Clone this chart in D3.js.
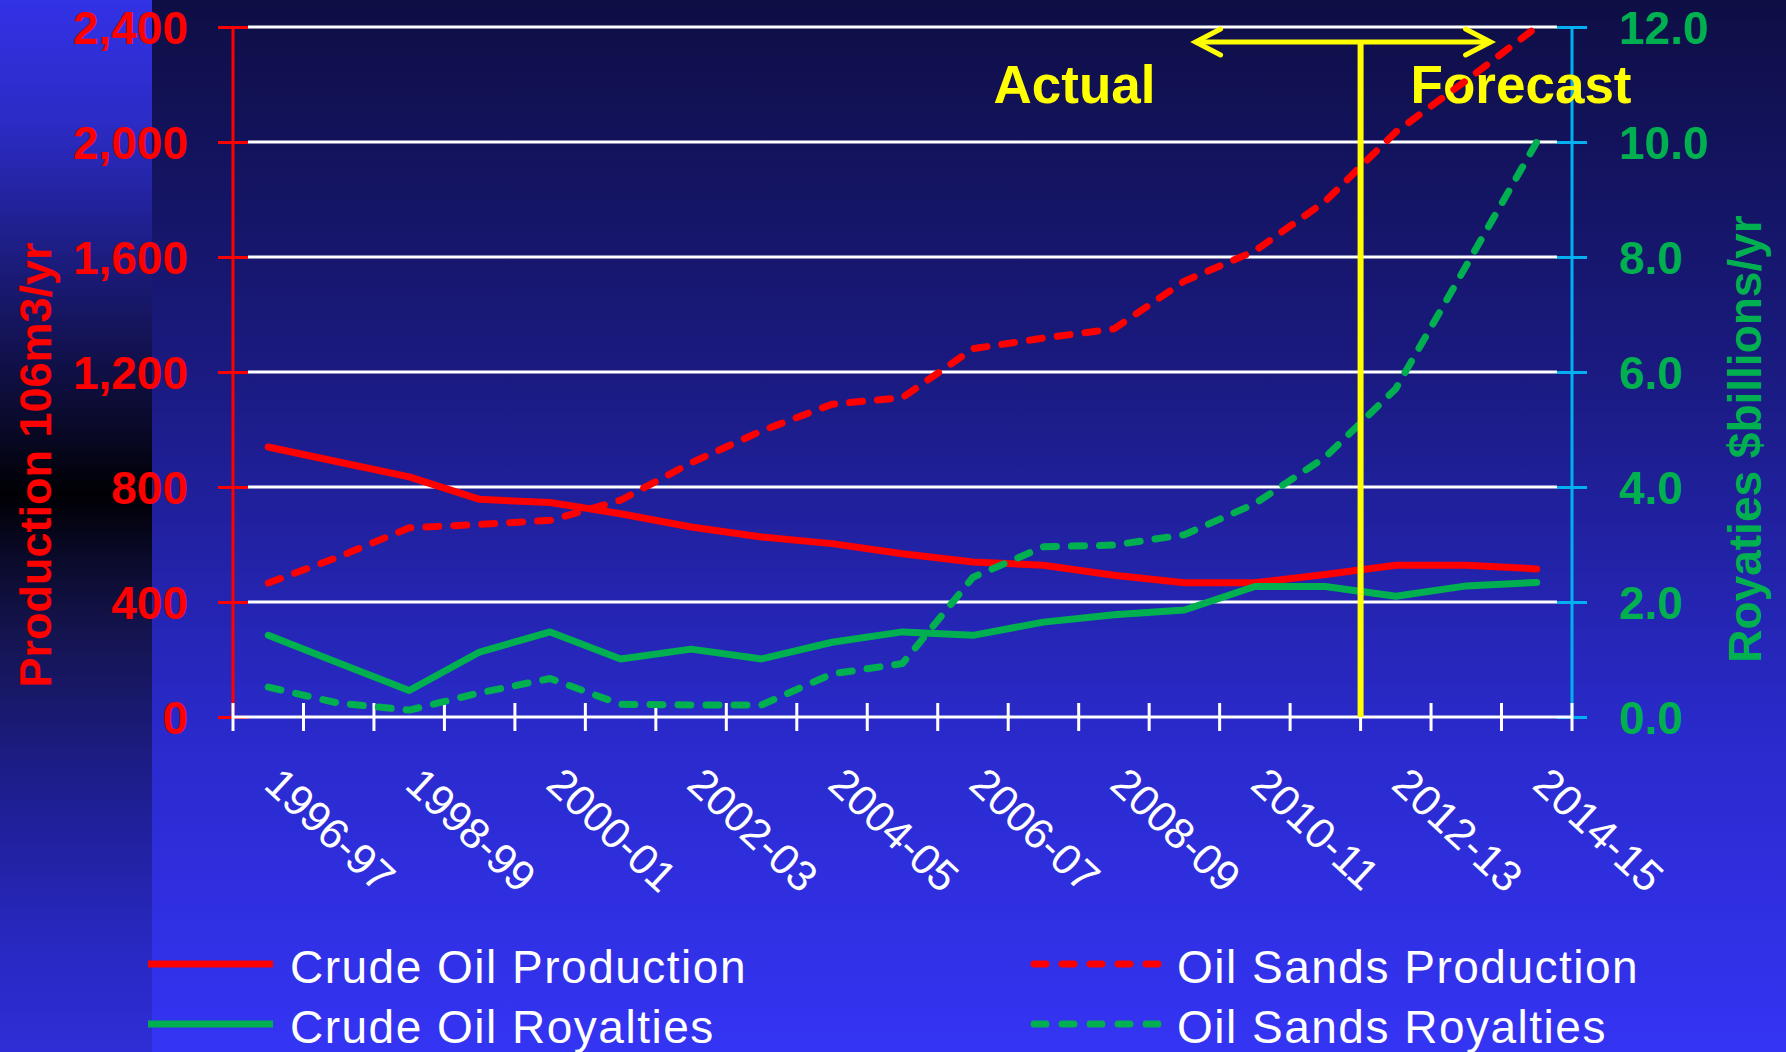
<!DOCTYPE html>
<html>
<head>
<meta charset="utf-8">
<script src="https://cdn.jsdelivr.net/npm/d3@7"></script>
<style>
body { margin: 0; background: #1a1a80; }
svg { display: block; font-family: "Liberation Sans", Arial, Helvetica, sans-serif; }
</style>
</head>
<body>
<svg width="1786" height="1052"></svg>
<script>
// fiscal years on the x axis
var categories = ["1996-97", "1997-98", "1998-99", "1999-00", "2000-01", "2001-02", "2002-03",
  "2003-04", "2004-05", "2005-06", "2006-07", "2007-08", "2008-09", "2009-10", "2010-11",
  "2011-12", "2012-13", "2013-14", "2014-15"];
var firstForecast = "2012-13";

var leftTicks = [0, 400, 800, 1200, 1600, 2000, 2400];
var rightTicks = [0, 2, 4, 6, 8, 10, 12];

// production, 10^6 m3 / yr (left axis)
var crudeOilProduction = [939, 887, 835, 757, 746, 707, 661, 626, 603, 568, 539, 528, 493, 467, 467, 496, 528, 528, 515];
var oilSandsProduction = [466, 557, 658, 670, 684, 754, 884, 995, 1088, 1111, 1281, 1318, 1350, 1516, 1621, 1794, 2035, 2214, 2400];

// royalties, $ billions / yr (right axis)
var crudeOilRoyalties = [1.42, 0.94, 0.46, 1.13, 1.48, 1.01, 1.18, 1.01, 1.30, 1.48, 1.42, 1.65, 1.78, 1.86, 2.27, 2.27, 2.10, 2.28, 2.34];
var oilSandsRoyalties = [0.52, 0.24, 0.12, 0.42, 0.67, 0.22, 0.21, 0.21, 0.75, 0.93, 2.43, 2.96, 2.99, 3.17, 3.71, 4.52, 5.71, 7.85, 10.0];

var RED = "#ff0000", GREEN = "#00b050", BLUE = "#00b0f0", YELLOW = "#ffff00";

var svg = d3.select("svg"),
    width = +svg.attr("width"),
    height = +svg.attr("height");

var plot = {left: 233, right: 1572, top: 27, bottom: 717};

var x = d3.scaleBand().domain(categories).range([plot.left, plot.right]);
var yLeft = d3.scaleLinear().domain([0, 2400]).range([plot.bottom, plot.top]);
var yRight = d3.scaleLinear().domain([0, 12]).range([plot.bottom, plot.top]);

// -- background --
var defs = svg.append("defs");
var mainGrad = defs.append("linearGradient").attr("id", "bg-main")
    .attr("x1", 0).attr("y1", 0).attr("x2", 0).attr("y2", 1);
[[0, "#0e0e45"], [0.35, "#1a1a80"], [0.7, "#2a2acc"], [1, "#3434f4"]].forEach(function(s) {
  mainGrad.append("stop").attr("offset", s[0]).attr("stop-color", s[1]);
});
var stripGrad = defs.append("linearGradient").attr("id", "bg-strip")
    .attr("x1", 0).attr("y1", 0).attr("x2", 0).attr("y2", 1);
[[0, "#3232e6"], [0.12, "#2b2bc4"], [0.28, "#18186c"], [0.4, "#0a0a2c"], [0.47, "#000004"],
 [0.53, "#0a0a2a"], [0.6, "#14144f"], [0.75, "#1e1e90"], [0.9, "#2828c2"], [1, "#2e2ed6"]].forEach(function(s) {
  stripGrad.append("stop").attr("offset", s[0]).attr("stop-color", s[1]);
});

svg.append("rect").attr("width", width).attr("height", height).attr("fill", "url(#bg-main)");
svg.append("rect").attr("width", 152).attr("height", height).attr("fill", "url(#bg-strip)");

// -- gridlines --
svg.append("g").attr("class", "grid")
  .selectAll("line")
  .data(leftTicks.filter(function(d) { return d > 0; }))
  .enter().append("line")
    .attr("x1", plot.left + 15)
    .attr("x2", plot.right - 15)
    .attr("y1", function(d) { return yLeft(d); })
    .attr("y2", function(d) { return yLeft(d); })
    .attr("stroke", "#ffffff")
    .attr("stroke-width", 3);

// -- left axis --
var leftAxis = svg.append("g")
    .attr("transform", "translate(" + plot.left + ",0)")
    .call(d3.axisLeft(yLeft).tickValues(leftTicks).tickFormat(d3.format(",")).tickSize(15).tickPadding(30));
leftAxis.select(".domain").attr("stroke", RED).attr("stroke-width", 3).attr("d", "M0," + plot.top + "V" + plot.bottom);
leftAxis.selectAll(".tick line").attr("stroke", RED).attr("stroke-width", 3).attr("x1", 15).attr("x2", -15);
leftAxis.selectAll(".tick text")
    .attr("fill", RED)
    .attr("font-family", "Liberation Sans, Arial, sans-serif")
    .attr("font-size", 46)
    .attr("font-weight", "bold")
    .attr("dy", "0.36em");

// -- right axis --
var rightAxis = svg.append("g")
    .attr("transform", "translate(" + plot.right + ",0)")
    .call(d3.axisRight(yRight).tickValues(rightTicks).tickFormat(d3.format(".1f")).tickSize(15).tickPadding(32));
rightAxis.select(".domain").attr("stroke", BLUE).attr("stroke-width", 3).attr("d", "M0," + plot.top + "V" + plot.bottom);
rightAxis.selectAll(".tick line").attr("stroke", BLUE).attr("stroke-width", 3).attr("x1", -15).attr("x2", 15);
rightAxis.selectAll(".tick text")
    .attr("fill", GREEN)
    .attr("font-family", "Liberation Sans, Arial, sans-serif")
    .attr("font-size", 46)
    .attr("font-weight", "bold")
    .attr("dy", "0.36em");

// -- x axis (ticks on band edges, label on every other year) --
var edges = categories.map(function(c) { return x(c); }).concat([plot.right]);
var xAxis = svg.append("g").attr("class", "x-axis");
xAxis.append("line")
    .attr("x1", plot.left).attr("x2", plot.right)
    .attr("y1", plot.bottom).attr("y2", plot.bottom)
    .attr("stroke", "#ffffff").attr("stroke-width", 3);
xAxis.selectAll(".xtick")
  .data(edges)
  .enter().append("line")
    .attr("class", "xtick")
    .attr("x1", function(d) { return d; }).attr("x2", function(d) { return d; })
    .attr("y1", plot.bottom - 14).attr("y2", plot.bottom + 14)
    .attr("stroke", "#ffffff").attr("stroke-width", 3);
xAxis.selectAll(".xlabel")
  .data(categories.filter(function(d, i) { return i % 2 == 0; }))
  .enter().append("text")
    .attr("class", "xlabel")
    .attr("transform", function(d) {
      return "translate(" + (x(d) + x.bandwidth() / 2 - 6) + "," + (plot.bottom + 70) + ") rotate(43)";
    })
    .attr("fill", "#ffffff")
    .style("font-size", "43px")
    .text(function(d) { return d; });

// -- axis titles --
svg.append("text")
    .attr("transform", "translate(51," + 465 + ") rotate(-90)")
    .attr("text-anchor", "middle")
    .attr("fill", RED)
    .style("font-size", "45px")
    .style("font-weight", "bold")
    .text("Production 106m3/yr");

svg.append("text")
    .attr("transform", "translate(1761," + 439 + ") rotate(-90)")
    .attr("text-anchor", "middle")
    .attr("fill", GREEN)
    .style("font-size", "46px")
    .style("font-weight", "bold")
    .text("Royaties $billions/yr");

// -- actual / forecast annotation text --
var divX = x(firstForecast);
svg.append("text")
    .attr("x", divX - 367).attr("y", 103)
    .attr("fill", YELLOW)
    .style("font-size", "53px").style("font-weight", "bold")
    .text("Actual");
svg.append("text")
    .attr("x", divX + 50).attr("y", 103)
    .attr("fill", YELLOW)
    .style("font-size", "53px").style("font-weight", "bold")
    .text("Forecast");

// -- series --
var series = [
  {name: "Crude Oil Production", values: crudeOilProduction, y: yLeft, color: RED, dashed: false},
  {name: "Oil Sands Production", values: oilSandsProduction, y: yLeft, color: RED, dashed: true},
  {name: "Crude Oil Royalties", values: crudeOilRoyalties, y: yRight, color: GREEN, dashed: false},
  {name: "Oil Sands Royalties", values: oilSandsRoyalties, y: yRight, color: GREEN, dashed: true}
];

series.forEach(function(s) {
  var line = d3.line()
    .x(function(d, i) { return x(categories[i]) + x.bandwidth() / 2; })
    .y(function(d) { return s.y(d); });
  svg.append("path")
    .datum(s.values)
    .attr("d", line)
    .attr("fill", "none")
    .attr("stroke", s.color)
    .attr("stroke-width", 7)
    .attr("stroke-linejoin", "round")
    .attr("stroke-linecap", "round")
    .attr("stroke-dasharray", s.dashed ? "13,15" : null);
});

// -- divider + double arrow --
var arrowY = 42;
svg.append("line")
    .attr("x1", divX).attr("x2", divX)
    .attr("y1", arrowY).attr("y2", plot.bottom)
    .attr("stroke", YELLOW).attr("stroke-width", 6);
svg.append("line")
    .attr("x1", divX - 165).attr("x2", divX + 130)
    .attr("y1", arrowY).attr("y2", arrowY)
    .attr("stroke", YELLOW).attr("stroke-width", 5);
svg.append("path")
    .attr("d", "M" + (divX - 140) + "," + (arrowY - 13) + "L" + (divX - 165) + "," + arrowY + "L" + (divX - 140) + "," + (arrowY + 13))
    .attr("fill", "none").attr("stroke", YELLOW).attr("stroke-width", 5)
    .attr("stroke-linecap", "round");
svg.append("path")
    .attr("d", "M" + (divX + 105) + "," + (arrowY - 13) + "L" + (divX + 130) + "," + arrowY + "L" + (divX + 105) + "," + (arrowY + 13))
    .attr("fill", "none").attr("stroke", YELLOW).attr("stroke-width", 5)
    .attr("stroke-linecap", "round");

// -- legend --
var legendCols = [148, 1034], legendRows = [964, 1024];
var legend = svg.append("g").attr("class", "legend")
  .selectAll("g")
  .data(series)
  .enter().append("g")
    .attr("transform", function(d, i) {
      return "translate(" + legendCols[i % 2] + "," + legendRows[Math.floor(i / 2)] + ")";
    });
legend.append("line")
    .attr("x1", 0).attr("x2", function(d, i) { return i % 2 ? 128 : 125; })
    .attr("stroke", function(d) { return d.color; })
    .attr("stroke-width", 7)
    .attr("stroke-linecap", function(d) { return d.dashed ? "round" : "butt"; })
    .attr("stroke-dasharray", function(d) { return d.dashed ? "12,16" : null; });
legend.append("text")
    .attr("x", function(d, i) { return i % 2 ? 143 : 142; })
    .attr("y", 19)
    .attr("fill", "#ffffff")
    .style("font-size", "46px")
    .style("letter-spacing", "1.5px")
    .text(function(d) { return d.name; });
</script>
</body>
</html>
